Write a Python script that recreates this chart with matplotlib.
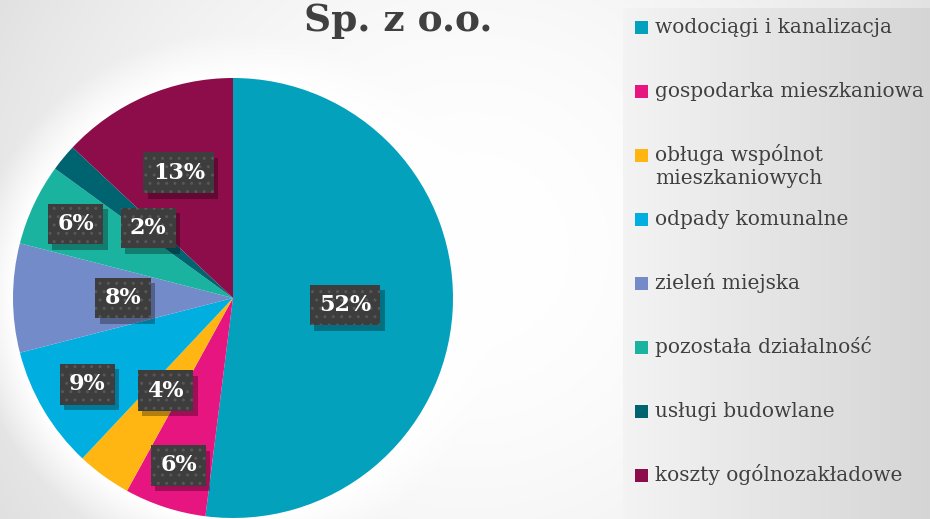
import numpy as np
import matplotlib.pyplot as plt
from matplotlib import patheffects
from matplotlib.patches import Rectangle

W, H, DPI = 930, 519, 100

TITLE = "Sp. z o.o."
CATEGORIES = [
    "wodociągi i kanalizacja",
    "gospodarka mieszkaniowa",
    "obługa wspólnot\nmieszkaniowych",
    "odpady komunalne",
    "zieleń miejska",
    "pozostała działalność",
    "usługi budowlane",
    "koszty ogólnozakładowe",
]
SHARES = [52, 6, 4, 9, 8, 6, 2, 13]
COLORS = [
    "#03A1BC",
    "#E7157F",
    "#FFB612",
    "#00AFDF",
    "#748BC9",
    "#1AB39F",
    "#006470",
    "#8D0C4A",
]
# how far from the centre each percentage box sits (fraction of radius)
LABEL_RADII = [0.51, 0.80, 0.52, 0.77, 0.50, 0.79, 0.50, 0.62]

CENTER = (233, 298)  # pie centre, pixels from top-left
RADIUS = 220
TEXT_COLOR = "#404040"
SERIF = "DejaVu Serif"


def px(x, y):
    return x / W, 1 - y / H


fig = plt.figure(figsize=(W / DPI, H / DPI), dpi=DPI)

# soft grey slide background with a light glow round the pie
bg_ax = fig.add_axes([0, 0, 1, 1])
bg_ax.set_axis_off()
yy, xx = np.mgrid[0:H, 0:W]
dist = np.hypot(xx - 470, yy - 250)
shade = 1 - 0.13 * np.clip(dist / 560, 0, 1) ** 2
glow = np.clip((np.hypot(xx - CENTER[0], yy - CENTER[1]) - RADIUS) / 45, 0, 1)
shade = 1 - (1 - shade) * glow
panel = (xx >= 622) & (yy >= 8)
shade = np.where(panel, 0.955 - 0.12 * (xx - 622) / 308, shade)
rgb = np.dstack([shade, shade, shade])
bg_ax.imshow(rgb, extent=[0, W, H, 0], aspect="auto", interpolation="none")

ax = fig.add_axes([0, 0, 1, 1])
wedges, _ = ax.pie(
    SHARES,
    colors=COLORS,
    startangle=90,
    counterclock=False,
    radius=1,
    wedgeprops=dict(linewidth=0),
)
ax.set_xlim(-CENTER[0] / RADIUS, (W - CENTER[0]) / RADIUS)
ax.set_ylim(-(H - CENTER[1]) / RADIUS, CENTER[1] / RADIUS)
ax.set_axis_off()

cum = 0
for share, r in zip(SHARES, LABEL_RADII):
    mid = np.deg2rad(90 - (cum + share / 2) * 3.6)
    cum += share
    t = ax.text(
        r * np.cos(mid),
        r * np.sin(mid),
        f"{share}%",
        ha="center",
        va="center",
        color="white",
        fontsize=16,
        fontweight="bold",
        family=SERIF,
        bbox=dict(boxstyle="square,pad=0.42", facecolor="#3d3d3d",
                  edgecolor="#575757", linewidth=0, hatch=".."),
    )
    t.get_bbox_patch().set_path_effects([
        patheffects.withSimplePatchShadow(offset=(3, -4), shadow_rgbFace="black",
                                          alpha=0.3, hatch=None),
    ])

fig.text(*px(398, 31), TITLE, ha="center", va="baseline", fontsize=27,
         fontweight="bold", color=TEXT_COLOR, family=SERIF)

# legend laid out like the original slide
LEG_Y0, LEG_STEP, LINE_H = 27, 64, 23
for i, (label, color) in enumerate(zip(CATEGORIES, COLORS)):
    y = LEG_Y0 + i * LEG_STEP
    fig.add_artist(Rectangle(px(635, y + 7), 13 / W, 13 / H,
                             transform=fig.transFigure, facecolor=color, linewidth=0))
    for j, line in enumerate(label.split("\n")):
        fig.text(*px(655, y + 6 + j * LINE_H), line, ha="left", va="baseline",
                 fontsize=14.5, color=TEXT_COLOR, family=SERIF)

fig.savefig("out.png", dpi=DPI)
